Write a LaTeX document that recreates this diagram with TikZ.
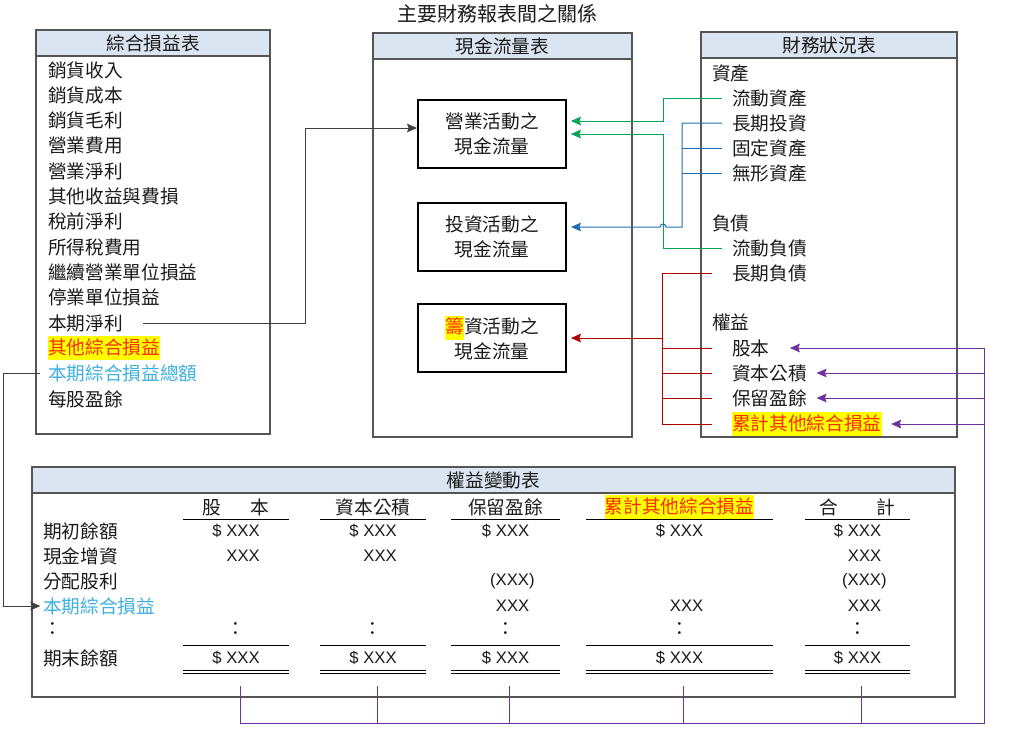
\documentclass[tikz,border=0pt]{standalone}
\usepackage{xcolor}
\usepackage{fontspec}
\setmainfont{Noto Sans CJK TC}
\newfontfamily\latin{Liberation Sans}
\usetikzlibrary{arrows.meta,calc}
\definecolor{headblue}{HTML}{DBE5F1}
\definecolor{framegray}{HTML}{555555}
\definecolor{txtgray}{HTML}{1A1A1A}
\definecolor{hlyellow}{HTML}{FFFF00}
\definecolor{hlred}{HTML}{FF2A00}
\definecolor{tciblue}{HTML}{3FAFE0}
\definecolor{linkgreen}{HTML}{00A651}
\definecolor{linkblue}{HTML}{1F6EB4}
\definecolor{linkred}{HTML}{B40000}
\definecolor{linkpurple}{HTML}{7030A0}
\newcommand{\hilite}[1]{{\setlength{\fboxsep}{0pt}\colorbox{hlyellow}{\rule[-4.5pt]{0pt}{18pt}\textcolor{hlred}{#1}}}}

\begin{document}
\begin{tikzpicture}[x=0.75pt, y=-0.75pt,
  font=\fontsize{14}{18.75}\selectfont, text=txtgray,
  frame/.style={draw=framegray, line width=1.1pt},
  head/.style={fill=headblue, draw=framegray, line width=1.1pt},
  item/.style={anchor=west, inner sep=0pt},
  cfbox/.style={draw=black, line width=1.5pt, minimum width=111pt, minimum height=51pt, align=center, inner sep=0pt},
  val/.style={anchor=east, inner sep=0pt, font=\latin\fontsize{12.5}{14}\selectfont},
  rule/.style={draw=black, line width=0.75pt},
  tip/.style={-{Stealth[length=7.5pt, width=6.5pt, inset=1.2pt]}},
  blk/.style={draw=black!75, line width=0.75pt},
  grn/.style={draw=linkgreen, line width=0.75pt},
  blu/.style={draw=linkblue, line width=0.75pt},
  redl/.style={draw=linkred, line width=0.75pt},
  prp/.style={draw=linkpurple, line width=0.75pt}
]
\useasboundingbox (0,0) rectangle (1024,754);

\node (title) at (497,14) {\fontsize{15}{18}\selectfont 主要財務報表間之關係};

% income statement
\draw[frame] (36,30) rectangle (270,434);
\draw[head] (36,30) rectangle (270,56);
\node (istitle) at (153,43.5) {綜合損益表};
\foreach \t [count=\i] in {銷貨收入, 銷貨成本, 銷貨毛利, 營業費用, 營業淨利, 其他收益與費損, 稅前淨利, 所得稅費用, 繼續營業單位損益, 停業單位損益, 本期淨利}
  \node[item] (is\i) at (48, {70+25.3*(\i-1)}) {\t};
\node[item] (is12) at (48,348.3) {\hilite{其他綜合損益}};
\node[item, text=tciblue] (is13) at (48,373.6) {本期綜合損益總額};
\node[item] (is14) at (48,398.9) {每股盈餘};

% cash flow statement
\draw[frame] (373,33) rectangle (632,437);
\draw[head] (373,33) rectangle (632,59);
\node (cftitle) at (502.5,46) {現金流量表};
\node[cfbox] (opcf) at (492,134) {營業活動之\\現金流量};
\node[cfbox] (invcf) at (492,237) {投資活動之\\現金流量};
\node[cfbox] (fincf) at (492,338) {\hilite{籌}資活動之\\現金流量};

% balance sheet
\draw[frame] (701,32) rectangle (957,437);
\draw[head] (701,32) rectangle (957,58);
\node (bstitle) at (829,45) {財務狀況表};
\node[item] (assets) at (712,73) {資產};
\node[item] (ca) at (732,98) {流動資產};
\node[item] (lti) at (732,123) {長期投資};
\node[item] (fa) at (732,148) {固定資產};
\node[item] (ia) at (732,173) {無形資產};
\node[item] (liab) at (712,223) {負債};
\node[item] (cl) at (732,248) {流動負債};
\node[item] (ltl) at (732,273) {長期負債};
\node[item] (equity) at (712,322) {權益};
\node[item] (cs) at (732,348) {股本};
\node[item] (capsur) at (732,373) {資本公積};
\node[item] (re) at (732,398) {保留盈餘};
\node[item] (aoci) at (732,424) {\hilite{累計其他綜合損益}};

% statement of changes in equity
\draw[frame] (32,467) rectangle (955,697);
\draw[head] (32,467) rectangle (955,493);
\node (cetitle) at (493.5,480) {權益變動表};
\node (h1) at (236,507) {股\hspace{22pt}本};
\node (h2) at (373,507) {資本公積};
\node (h3) at (505.5,507) {保留盈餘};
\node (h4) at (679.5,507) {\hilite{累計其他綜合損益}};
\node (h5) at (857.5,507) {合\hspace{29pt}計};
\node[item] (begbal) at (43,531) {期初餘額};
\node[item] (cashinc) at (43,556) {現金增資};
\node[item] (divpaid) at (43,581) {分配股利};
\node[item, text=tciblue] (tcirow) at (43,606) {本期綜合損益};
\node[item] (ellip) at (43,629) {：};
\node[item] (endbal) at (43,658) {期末餘額};
\foreach \l/\r [count=\c] in {183/289, 320/426, 451/560, 586/773, 805/910} {
  \pgfmathsetmacro{\mx}{(\l+\r)/2}
  \coordinate (vx\c) at (\mx+24,0);
  \coordinate (e\c) at (\mx+4,686);
  \draw[rule] (\l,519) -- (\r,519);
  \draw[rule] (\l,645) -- (\r,645);
  \draw[rule] (\l,670.5) -- (\r,670.5) (\l,673.5) -- (\r,673.5);
  \node[val] (open\c) at (vx\c |- 0,531) {\$ XXX};
  \node (colon\c) at (\mx,629) {：};
  \node[val] (close\c) at (vx\c |- 0,658) {\$ XXX};
}
\foreach \c in {1,2,5}
  \node[val] (cash\c) at (vx\c |- 0,556) {XXX};
\foreach \c in {3,5}
  \node[val, xshift=4pt] (div\c) at (vx\c |- 0,581) {(XXX)};
\foreach \c in {3,4,5}
  \node[val] (ci\c) at (vx\c |- 0,606) {XXX};

% connectors
\coordinate (nbus) at (305,0);
\coordinate (lbus) at (3,0);
\coordinate (gbus) at (663,0);
\coordinate (bbus) at (682,0);
\coordinate (rbus) at (662,0);
\coordinate (pbus) at (984,723);
\coordinate (opin0) at ([yshift=4.5pt]opcf.west);
\coordinate (opin1) at ([yshift=9.75pt]opcf.east);
\coordinate (invin) at ([yshift=7.5pt]invcf.east);

\draw[blk, tip, shorten <=15pt] (is11.east) -| (nbus |- opin0) -- (opin0);
\draw[blk, tip, shorten <=6pt, shorten >=2pt] (is13.west) -- (is13.west -| lbus) |- (tcirow.west);

\draw[grn, tip, shorten <=7.5pt, shorten >=3pt] (ca.west) -| (gbus |- opin1) -- (opin1);
\draw[grn, tip, shorten <=7.5pt, shorten >=3pt] (cl.west) -| (gbus |- opcf.east) -- (opcf.east);

\draw[blu, tip, shorten <=7.5pt, shorten >=3pt] (lti.west) -| (bbus |- invin)
  -- ($(gbus |- invin)+(3,0)$) arc[start angle=0, end angle=180, radius=2.25pt] -- (invin);
\draw[blu, shorten >=7.5pt] (bbus |- fa.west) -- (fa.west);
\draw[blu, shorten >=7.5pt] (bbus |- ia.west) -- (ia.west);

\draw[redl, shorten <=15pt, shorten >=15pt] (ltl.west) -| (rbus |- aoci.west) -- (aoci.west);
\foreach \n in {cs, capsur, re}
  \draw[redl, shorten >=15pt] (rbus |- \n.west) -- (\n.west);
\draw[redl, tip, shorten >=3pt] (rbus |- fincf.east) -- (fincf.east);

\draw[prp] (e1) |- (pbus) -- (pbus |- cs.east);
\foreach \c in {2,...,5}
  \draw[prp] (e\c) -- (e\c |- pbus);
\draw[prp, tip] (pbus |- cs.east) -- ([xshift=15pt]cs.east);
\draw[prp, tip] (pbus |- capsur.east) -- ([xshift=7pt]capsur.east);
\draw[prp, tip] (pbus |- re.east) -- ([xshift=7pt]re.east);
\draw[prp, tip] (pbus |- aoci.east) -- ([xshift=7pt]aoci.east);
\end{tikzpicture}
\end{document}
